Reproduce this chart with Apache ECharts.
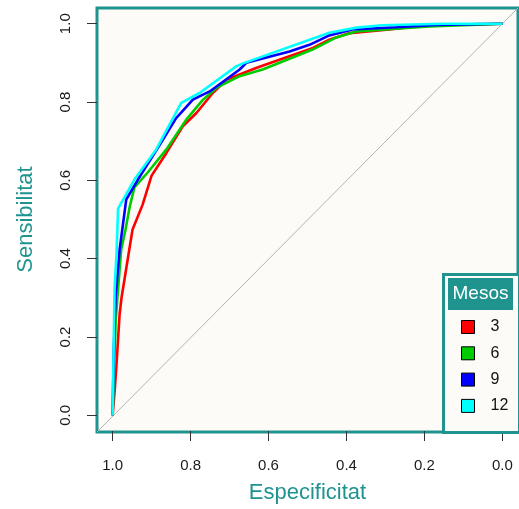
<!DOCTYPE html>
<html>
<head>
<meta charset="utf-8">
<script src="https://cdn.jsdelivr.net/npm/echarts@6/dist/echarts.min.js"></script>
<style>
  html, body { margin: 0; padding: 0; background: #ffffff; }
  #chart { width: 519px; height: 509px; }
</style>
</head>
<body>
<div id="chart"></div>
<script>
// ROC curves by follow-up month
const months = ['3', '6', '9', '12'];
const lineColors = ['#ff0000', '#00cd00', '#0000ff', '#00ffff'];

const spec3 = [1.0, 0.995, 0.990, 0.982, 0.977, 0.949, 0.923, 0.900, 0.862, 0.820, 0.785, 0.743, 0.708, 0.632, 0.572, 0.486, 0.444, 0.392, 0.290, 0.238, 0.162, 0.0];
const sens3 = [0.0, 0.059, 0.130, 0.258, 0.301, 0.474, 0.538, 0.612, 0.670, 0.738, 0.772, 0.823, 0.857, 0.887, 0.908, 0.938, 0.959, 0.976, 0.985, 0.991, 0.997, 1.0];

const spec6 = [1.0, 0.997, 0.992, 0.985, 0.978, 0.967, 0.956, 0.944, 0.910, 0.862, 0.811, 0.768, 0.734, 0.674, 0.615, 0.487, 0.426, 0.375, 0.273, 0.187, 0.0];
const sens6 = [0.0, 0.092, 0.245, 0.334, 0.423, 0.474, 0.533, 0.582, 0.620, 0.679, 0.755, 0.806, 0.836, 0.866, 0.883, 0.934, 0.965, 0.980, 0.987, 0.993, 1.0];

const spec9 = [1.0, 0.997, 0.992, 0.982, 0.965, 0.935, 0.879, 0.837, 0.794, 0.751, 0.674, 0.657, 0.546, 0.495, 0.444, 0.385, 0.273, 0.170, 0.0];
const sens9 = [0.0, 0.168, 0.309, 0.423, 0.551, 0.602, 0.691, 0.759, 0.806, 0.827, 0.883, 0.900, 0.929, 0.946, 0.970, 0.985, 0.991, 0.997, 1.0];

const spec12 = [1.0, 0.995, 0.990, 0.986, 0.944, 0.888, 0.824, 0.777, 0.683, 0.667, 0.444, 0.374, 0.308, 0.154, 0.0];
const sens12 = [0.0, 0.321, 0.411, 0.528, 0.602, 0.679, 0.798, 0.823, 0.891, 0.898, 0.977, 0.990, 0.996, 1.0, 1.0];

// chance line, running corner to corner of the plotting region
const chanceSpec = [1.04, -0.04];
const chanceSens = [-0.04, 1.04];

const curves = [
  [spec3, sens3],
  [spec6, sens6],
  [spec9, sens9],
  [spec12, sens12]
];

const teal = '#1f948f';
const panelBg = '#fcfbf7';
const font = 'Liberation Sans, Arial, Helvetica, sans-serif';

// outer panel (full extended range) and the 0..1 data region inset inside it
const panel = { left: 97, right: 1, top: 8, bottom: 77 };
const padX = 15.6, padY = 15.7;

const pairs = (xs, ys) => xs.map((x, i) => [x, ys[i]]);

const series = [{
  name: 'chance',
  type: 'line',
  xAxisIndex: 0,
  yAxisIndex: 0,
  data: pairs(chanceSpec, chanceSens),
  showSymbol: false,
  silent: true,
  lineStyle: { color: '#b3b3b3', width: 1 },
  z: 1
}].concat(curves.map((c, i) => ({
  name: months[i],
  type: 'line',
  xAxisIndex: 1,
  yAxisIndex: 1,
  data: pairs(c[0], c[1]),
  showSymbol: false,
  clip: false,
  color: lineColors[i],
  lineStyle: { color: lineColors[i], width: 2.6 },
  z: 2 + i
})));

const axisCommon = {
  axisLine: { show: false, onZero: false },
  splitLine: { show: false },
  axisTick: { show: true, length: 10, lineStyle: { color: '#333333', width: 1 } },
  nameTextStyle: { color: teal, fontSize: 22, fontFamily: font }
};

const chart = echarts.init(document.getElementById('chart'), null, { renderer: 'canvas' });

chart.setOption({
  animation: false,
  backgroundColor: '#ffffff',
  textStyle: { fontFamily: font },
  grid: [
    {
      left: panel.left, right: panel.right, top: panel.top, bottom: panel.bottom,
      show: true,
      backgroundColor: panelBg,
      borderColor: teal,
      borderWidth: 3
    },
    {
      left: panel.left + padX, right: panel.right + padX,
      top: panel.top + padY, bottom: panel.bottom + padY
    }
  ],
  xAxis: [
    { type: 'value', gridIndex: 0, show: false, inverse: true, min: -0.04, max: 1.04 },
    Object.assign({}, axisCommon, {
      type: 'value',
      gridIndex: 1,
      inverse: true,
      min: 0,
      max: 1,
      interval: 0.2,
      offset: padY,
      name: 'Especificitat',
      nameLocation: 'middle',
      nameGap: 51,
      axisLabel: {
        margin: 27,
        fontSize: 15,
        color: '#1a1a1a',
        fontFamily: font,
        formatter: v => v.toFixed(1)
      }
    })
  ],
  yAxis: [
    { type: 'value', gridIndex: 0, show: false, min: -0.04, max: 1.04 },
    Object.assign({}, axisCommon, {
      type: 'value',
      gridIndex: 1,
      min: 0,
      max: 1,
      interval: 0.2,
      offset: padX,
      name: 'Sensibilitat',
      nameLocation: 'middle',
      nameGap: 60,
      axisLabel: {
        rotate: 90,
        margin: 24,
        fontSize: 15,
        color: '#1a1a1a',
        fontFamily: font,
        formatter: v => v.toFixed(1)
      }
    })
  ],
  legend: {
    data: months,
    orient: 'vertical',
    left: 461,
    top: 319,
    padding: 0,
    icon: 'rect',
    itemWidth: 13,
    itemHeight: 13,
    itemGap: 10.3,
    itemStyle: { borderColor: '#000000', borderWidth: 1 },
    textStyle: { fontSize: 16, color: '#111111', fontFamily: font, padding: [0, 0, 0, 11] },
    selectedMode: false,
    z: 20
  },
  graphic: [
    {
      type: 'rect',
      z: 10,
      shape: { x: 443.5, y: 274.5, width: 76, height: 158 },
      style: { fill: panelBg, stroke: teal, lineWidth: 3 }
    },
    {
      type: 'rect',
      z: 11,
      shape: { x: 448, y: 278, width: 65, height: 32 },
      style: { fill: teal }
    },
    {
      type: 'text',
      z: 12,
      x: 480.5,
      y: 294,
      style: {
        text: 'Mesos',
        fill: '#ffffff',
        font: '19px ' + font,
        align: 'center',
        verticalAlign: 'middle'
      }
    }
  ],
  series: series
});
</script>
</body>
</html>
